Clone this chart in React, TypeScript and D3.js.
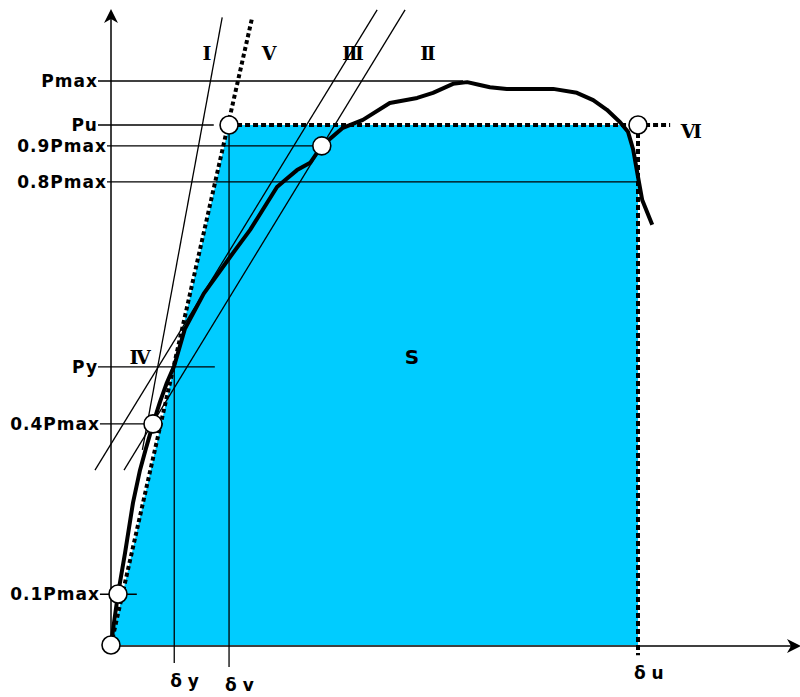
import React from "react";
import * as d3 from "d3";

// load-displacement curve, displacement in % of δu, load in % of Pmax
const curveDelta = [0, 0.38, 1.33, 2.66, 4.17, 5.5, 6.64, 7.97, 9.3, 10.6, 12.0, 14.0, 17.6, 22.6, 26.4, 31.5, 33.0, 35.3, 37.8, 40.0, 44.0, 47.8, 52.9, 58.1, 61.1, 64.9, 67.6, 70.0, 71.9, 75.1, 83.9, 88.4, 91.5, 94.1, 96.6, 98.1, 99.1, 100, 100.8, 102.7];
const curveLoad = [0, 2.66, 9.04, 16.3, 25.2, 31.0, 34.9, 39.2, 43.1, 46.5, 49.5, 56.0, 62.3, 68.8, 73.6, 81.2, 82.4, 84.2, 85.5, 88.5, 91.7, 93.1, 96.1, 97.0, 97.9, 99.5, 99.8, 99.3, 98.9, 98.6, 98.6, 97.9, 96.6, 94.9, 92.7, 91.0, 87.8, 83.0, 78.9, 74.5];

// load levels on the vertical axis
const levelNames = ["Pmax", "Pu", "0.9Pmax", "0.8Pmax", "Py", "0.4Pmax", "0.1Pmax"];
const levelValues = [100, 92.2, 88.5, 82.1, 49.3, 39.2, 9.0];
const levelFrom = [-2.47, -2.47, -0.76, -0.76, -2.47, -2.1, -2.1];
const levelTo = [66.8, 19.5, 40, 100, 19.7, 8.0, 4.9];

// displacement marks on the horizontal axis
const dispNames = ["δ y", "δ v", "δ u"];
const dispValues = [12.0, 22.4, 100];
const dispTop = [49.3, 92.2, 92.2];
const dispBottom = [-3.2, -3.9, -1.8];

// thin construction lines I, II, III
const refStart = [[5.96, 34.6], [2.47, 31.0], [-3.04, 31.0]];
const refEnd = [[21.1, 111.3], [55.8, 112.6], [50.5, 112.6]];

// dotted line V top end, and end of the dotted Pu line (VI)
const lineVTop = [26.8, 111.3];
const lineVIEnd = 106.1;

// roman numeral labels
const romanNames = ["I", "V", "III", "II", "IV", "VI"];
const romanDelta = [18.2, 30.0, 45.7, 59.9, 5.3, 109.9];
const romanLoad = [104.9, 104.9, 104.9, 104.9, 51.1, 91.1];

// marked points (circles)
const markDelta = [0, 1.33, 7.97, 40.0, 22.4, 100];
const markLoad = [0, 9.04, 39.2, 88.5, 92.2, 92.2];

const W = 800;
const H = 697;
const BLUE = "#00CCFF";

export default function App() {
  const x = d3.scaleLinear().domain([0, 100]).range([111, 638]);
  const y = d3.scaleLinear().domain([0, 100]).range([645, 81]);

  const curve = curveDelta.map((d, i) => [d, curveLoad[i]] as [number, number]);
  const line = d3.line<[number, number]>().x(d => x(d[0])).y(d => y(d[1]));

  const Pu = levelValues[1];
  const dv = dispValues[1];
  const du = dispValues[2];

  // where the curve drops through Pu near δu
  let cross = du;
  for (let i = 1; i < curve.length; i++) {
    const a = curve[i - 1], b = curve[i];
    if (a[0] > 80 && a[1] >= Pu && b[1] < Pu) {
      cross = a[0] + (b[0] - a[0]) * (a[1] - Pu) / (a[1] - b[1]);
      break;
    }
  }
  const area: [number, number][] = [
    [0, 0],
    [dv, Pu],
    [cross, Pu],
    ...curve.filter(d => d[0] > cross && d[0] <= du),
    [du, 0],
  ];

  const x0 = x(0), y0 = y(0);
  const labelFont = "'DejaVu Sans', Arial, sans-serif";
  const serif = "'DejaVu Serif', 'Liberation Serif', serif";

  return (
    <svg width={W} height={H} style={{ position: "absolute", left: 0, top: 0, background: "#fff" }}>
      <path d={line(area) + "Z"} fill={BLUE} />

      {/* level lines */}
      {levelNames.map((n, i) => (
        <g key={n}>
          <line x1={x(levelFrom[i])} x2={x(levelTo[i])} y1={y(levelValues[i])} y2={y(levelValues[i])}
            stroke="#000" strokeWidth={1.3} />
          <text x={x(levelFrom[i])} y={y(levelValues[i]) + 6} textAnchor="end"
            fontFamily={labelFont} fontWeight="bold" fontSize={17} letterSpacing={1}>{n}</text>
        </g>
      ))}

      {/* displacement marks */}
      {dispNames.map((n, i) => (
        <g key={n}>
          <line x1={x(dispValues[i])} x2={x(dispValues[i])} y1={y(dispTop[i])} y2={y(dispBottom[i])}
            stroke="#000" strokeWidth={i === 2 ? 4 : 1.3} strokeDasharray={i === 2 ? "5 3" : undefined} />
          <text x={x(dispValues[i]) - 4} y={y(dispBottom[i]) + 24}
            fontFamily={labelFont} fontWeight="bold" fontSize={17} letterSpacing={0}>{n}</text>
        </g>
      ))}

      {/* construction lines */}
      {refStart.map((s, i) => (
        <line key={i} x1={x(s[0])} y1={y(s[1])} x2={x(refEnd[i][0])} y2={y(refEnd[i][1])}
          stroke="#000" strokeWidth={1.3} />
      ))}

      {/* dotted lines V and VI */}
      <line x1={x(0)} y1={y(0)} x2={x(lineVTop[0])} y2={y(lineVTop[1])}
        stroke="#000" strokeWidth={4} strokeDasharray="4 3" />
      <line x1={x(dv)} y1={y(Pu)} x2={x(lineVIEnd)} y2={y(Pu)}
        stroke="#000" strokeWidth={4} strokeDasharray="5 3" />

      {/* axes */}
      <line x1={x0} y1={y0} x2={x0} y2={14} stroke="#000" strokeWidth={1.5} />
      <line x1={x0} y1={y0 + 1} x2={796} y2={y0 + 1} stroke="#000" strokeWidth={1.5} />
      <path d={`M${x0},9 L${x0 - 7},23 L${x0},19 L${x0 + 7},23 Z`} fill="#000" />
      <path d={`M801,${y0 + 1} L787,${y0 - 6} L791,${y0 + 1} L787,${y0 + 8} Z`} fill="#000" />

      {/* load-displacement curve */}
      <path d={line(curve) ?? ""} fill="none" stroke="#000" strokeWidth={4} strokeLinejoin="round" />

      {/* marked points */}
      {markDelta.map((d, i) => (
        <circle key={i} cx={x(d)} cy={y(markLoad[i])} r={9} fill="#fff" stroke="#000" strokeWidth={1.6} />
      ))}

      {/* roman numerals */}
      {romanNames.map((n, i) => (
        <text key={n} x={x(romanDelta[i])} y={y(romanLoad[i]) + 7} textAnchor="middle"
          fontFamily={serif} fontWeight="bold" fontSize={19} letterSpacing={n.length > 1 ? -2.5 : 0}>{n}</text>
      ))}

      <text x={x(57.1)} y={y(51.1) + 7} textAnchor="middle" fontFamily={labelFont} fontWeight="bold" fontSize={20}>S</text>
    </svg>
  );
}
